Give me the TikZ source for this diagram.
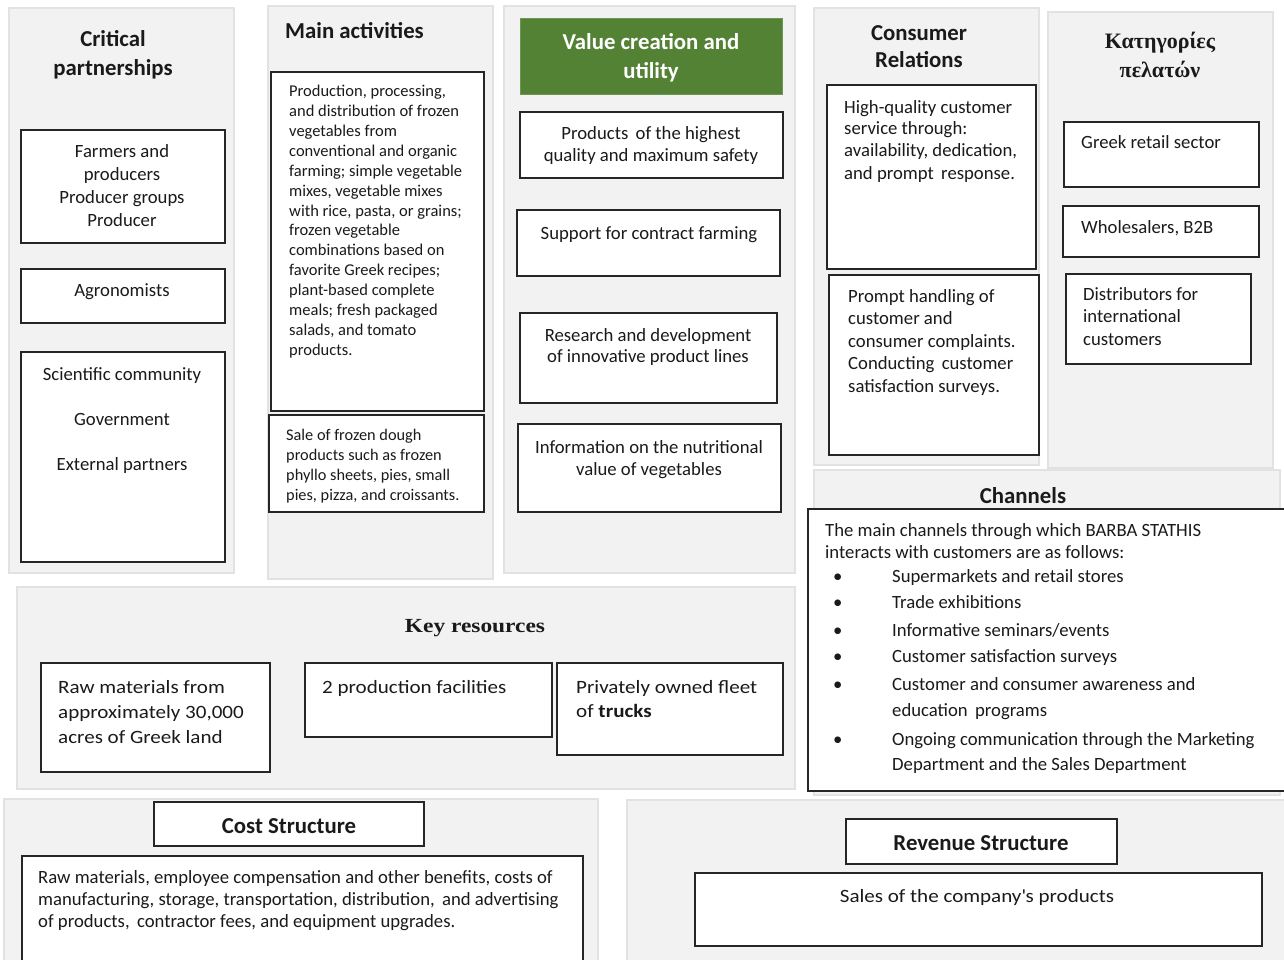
\documentclass[tikz,border=0pt]{standalone}
\usepackage{fontspec}
\setmainfont{Carlito}
\newfontfamily\grtitle{Liberation Serif}
\newfontfamily\krtitle[FakeStretch=1.17]{Liberation Serif}
\newfontfamily\krbody[FakeStretch=1.12]{Carlito}
\definecolor{panelfill}{HTML}{F2F2F2}
\definecolor{panelline}{HTML}{E2E2E2}
\definecolor{boxline}{HTML}{262626}
\definecolor{vgreen}{HTML}{548235}
\definecolor{txt}{HTML}{1A1A1A}
\newcommand\fs[2]{\fontsize{#1}{#2}\selectfont}
\newcommand\bx[6]{\node[#6,anchor=north west,inner sep=0pt,outer sep=0pt,minimum width={(#4)-(#2)},minimum height={(#5)-(#3)}] (#1) at (#2,#3) {};}
\begin{document}
\begin{tikzpicture}[x=1pt,y=-1pt,
  panel/.style={fill=panelfill,draw=panelline,line width=1.2pt},
  wbox/.style={fill=white,draw=boxline,line width=1.3pt},
  gbox/.style={fill=vgreen,draw=vgreen!85!white,line width=1pt},
  ttl/.style={font=\fs{22.8}{29}\bfseries,text=txt,align=center,inner sep=0pt,anchor=base,yshift=-2pt},
  bodyc/.style={font=\fs{18.7}{22},text=txt,align=center,inner sep=0pt,anchor=base,yshift=-2pt},
  bodyl/.style={font=\fs{18.7}{22},text=txt,align=left,inner sep=0pt,anchor=base west,yshift=-2pt},
  small/.style={font=\fs{16.5}{19.85},text=txt,align=left,inner sep=0pt,anchor=base west,yshift=-2pt},
  krb/.style={font=\krbody\fs{18.8}{25},text=txt,align=left,inner sep=0pt,anchor=base west,yshift=-2pt},
]
\useasboundingbox (0,0) rectangle (1284,960);
\fill[white] (0,0) rectangle (1284,960);

% ---------- panels ----------
\bx{p1}{9}{8}{234}{573}{panel}
\bx{p2}{268}{6}{493}{579}{panel}
\bx{p3}{504}{6}{795}{573}{panel}
\bx{p4}{814}{8}{1039}{465}{panel}
\bx{p5}{1048}{12}{1273}{468}{panel}
\bx{p6}{814}{470}{1280}{795}{panel}
\bx{p7}{17}{587}{795}{789}{panel}
\bx{p8}{4}{799}{598}{968}{panel}
\bx{p9}{627}{800}{1290}{968}{panel}

% (multi-line nodes are placed by the baseline of their last line)
% ---------- Critical partnerships ----------
\node[ttl] (tcp) at (113,74) {Critical\\partnerships};
\bx{bfarm}{21}{130}{225}{243}{wbox}
\node[bodyc,font=\fs{18.7}{22.7}] (tfarm) at (122,224) {Farmers and\\producers\\Producer groups\\Producer};
\bx{bagro}{21}{269}{225}{323}{wbox}
\node[bodyc] (tagro) at (122,294) {Agronomists};
\bx{bsci}{21}{352}{225}{562}{wbox}
\node[bodyc,font=\fs{18.7}{45}] (tsci) at (122,468) {Scientific community\\Government\\External partners};

% ---------- Main activities ----------
\node[ttl,anchor=base west] (tma) at (285,37) {Main activities};
\bx{bma1}{271}{72}{484}{411}{wbox}
\node[small] (tma1) at (289,353) {Production, processing,\\and distribution of frozen\\vegetables from\\conventional and organic\\farming; simple vegetable\\mixes, vegetable mixes\\with rice, pasta, or grains;\\frozen vegetable\\combinations based on\\favorite Greek recipes;\\plant-based complete\\meals; fresh packaged\\salads, and tomato\\products.};
\bx{bma2}{269}{415}{484}{512}{wbox}
\node[small,font=\fs{16.3}{19.7}] (tma2) at (286,498) {Sale of frozen dough\\products such as frozen\\phyllo sheets, pies, small\\pies, pizza, and croissants.};

% ---------- Value creation ----------
\bx{bgreen}{520}{19}{782}{95}{gbox}
\node[ttl,text=white] (tvc) at (651,77) {Value creation and\\utility};
\bx{bv1}{520}{112}{783}{178}{wbox}
\node[bodyc] (tv1) at (651,160) {Products\, of the highest\\quality and maximum safety};
\bx{bv2}{517}{210}{780}{276}{wbox}
\node[bodyc] (tv2) at (649,237) {Support for contract farming};
\bx{bv3}{520}{313}{777}{403}{wbox}
\node[bodyc,font=\fs{18.7}{21.5}] (tv3) at (648,360.5) {Research and development\\of innovative product lines};
\bx{bv4}{518}{424}{781}{512}{wbox}
\node[bodyc] (tv4) at (649,473) {Information on the nutritional\\value of vegetables};

% ---------- Consumer relations ----------
\node[ttl,font=\fs{22.8}{27}\bfseries] (tcr) at (919,66) {Consumer\\Relations};
\bx{bcr1}{827}{85}{1036}{269}{wbox}
\node[bodyl] (tcr1) at (844,177) {High-quality customer\\service through:\\availability, dedication,\\and prompt\, response.};
\bx{bcr2}{829}{275}{1039}{455}{wbox}
\node[bodyl,font=\fs{18.7}{22.5}] (tcr2) at (848,390) {Prompt handling of\\customer and\\consumer complaints.\\Conducting\, customer\\satisfaction surveys.};

% ---------- Customer categories ----------
\node[ttl,font=\grtitle\fs{22}{29}\bfseries] (tkp) at (1160,76) {Κατηγορίες\\πελατών};
\bx{bk1}{1064}{122}{1259}{187}{wbox}
\node[bodyl] (tk1) at (1081,147) {Greek retail sector};
\bx{bk2}{1063}{206}{1259}{257}{wbox}
\node[bodyl] (tk2) at (1081,231) {Wholesalers, B2B};
\bx{bk3}{1066}{274}{1251}{364}{wbox}
\node[bodyl,font=\fs{18.7}{22.5}] (tk3) at (1083,343) {Distributors for\\international\\customers};

% ---------- Channels ----------
\node[ttl] (tch) at (1023,501) {Channels};
\bx{bch}{808}{509}{1295}{791}{wbox}
\node[bodyl] (tch0) at (825,556) {The main channels through which BARBA STATHIS\\interacts with customers are as follows:};
\node[bodyl] (cb1) at (833,580) {•};
\node[bodyl] (ci1) at (892,580) {Supermarkets and retail stores};
\node[bodyl] (cb2) at (833,606) {•};
\node[bodyl] (ci2) at (892,606) {Trade exhibitions};
\node[bodyl] (cb3) at (833,634) {•};
\node[bodyl] (ci3) at (892,634) {Informative seminars/events};
\node[bodyl] (cb4) at (833,660) {•};
\node[bodyl] (ci4) at (892,660) {Customer satisfaction surveys};
\node[bodyl] (cb5) at (833,688) {•};
\node[bodyl,font=\fs{18.7}{26}] (ci5) at (892,714) {Customer and consumer awareness and\\education\, programs};
\node[bodyl] (cb6) at (833,743) {•};
\node[bodyl,font=\fs{18.7}{25}] (ci6) at (892,768) {Ongoing communication through the Marketing\\Department and the Sales Department};

% ---------- Key resources ----------
\node[ttl,font=\krtitle\fs{20}{26}\bfseries] (tkr) at (475,630) {Key resources};
\bx{bkr1}{41}{663}{270}{772}{wbox}
\node[krb] (tkr1) at (58,741) {Raw materials from\\approximately 30,000\\acres of Greek land};
\bx{bkr2}{305}{663}{552}{737}{wbox}
\node[krb] (tkr2) at (322,691) {2 production facilities};
\bx{bkr3}{557}{663}{783}{755}{wbox}
\node[krb,font=\krbody\fs{18.8}{24}] (tkr3) at (576,715) {Privately owned fleet\\of \textbf{trucks}};

% ---------- Cost structure ----------
\bx{bcsh}{154}{802}{424}{846}{wbox}
\node[ttl] (tcs) at (289,831) {Cost Structure};
\bx{bcsb}{22}{856}{583}{975}{wbox}
\node[bodyl,font=\fs{18.7}{22}] (tcsb) at (38,925) {Raw materials, employee compensation and other benefits, costs of\\manufacturing, storage, transportation, distribution,\, and advertising\\of products,\, contractor fees, and equipment upgrades.};

% ---------- Revenue structure ----------
\bx{brsh}{846}{819}{1117}{864}{wbox}
\node[ttl] (trs) at (981,848) {Revenue Structure};
\bx{brsb}{695}{873}{1262}{946}{wbox}
\node[bodyc,font=\krbody\fs{18.8}{22}] (trsb) at (977,900) {Sales of the company\textquotesingle s products};
\end{tikzpicture}
\end{document}
